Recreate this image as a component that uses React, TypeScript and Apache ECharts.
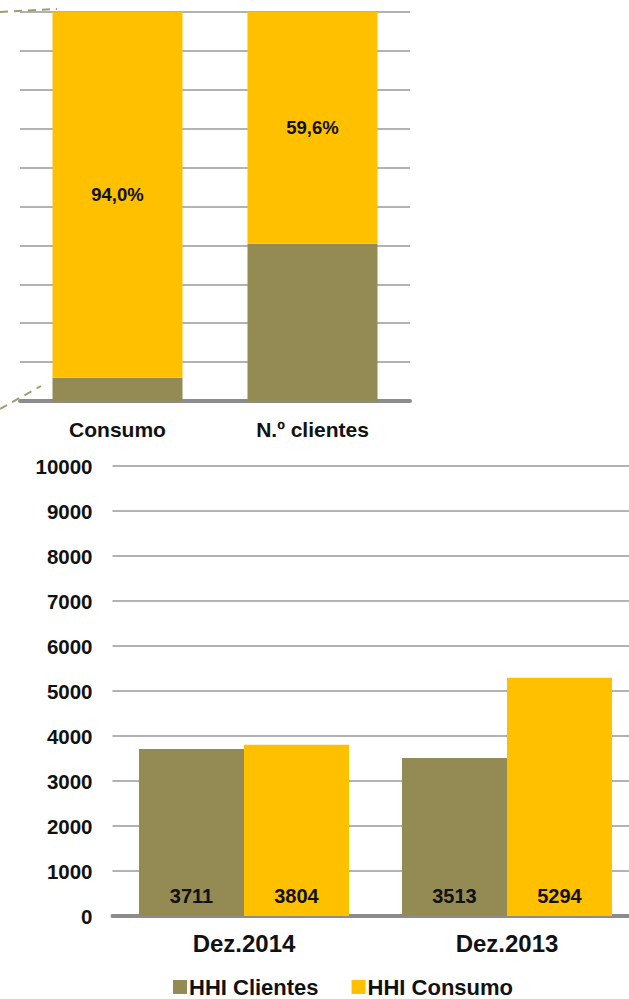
import React, { useEffect, useRef } from "react";
import * as echarts from "echarts";

const topCategories = ["Consumo", "N.º clientes"];
const topLowerShare = [6.0, 40.4];
const topUpperShare = [94.0, 59.6];
const topTicks = { min: 0, max: 100, interval: 10 };

const hhiCategories = ["Dez.2014", "Dez.2013"];
const hhiClientes = [3711, 3513];
const hhiConsumo = [3804, 5294];
const hhiTicks = { min: 0, max: 10000, interval: 1000 };

const OLIVE = "#948A54";
const YELLOW = "#FFC000";
const GRID = "#989898";
const AXIS = "#8C8C8C";
const FONT = "'Liberation Sans', Arial, sans-serif";

export default function App() {
  const ref = useRef<HTMLDivElement>(null);
  useEffect(() => {
    document.body.style.margin = "0";
    const chart = echarts.init(ref.current!, undefined, { renderer: "svg" });
    chart.setOption({
      animation: false,
      textStyle: { fontFamily: FONT },
      grid: [
        { left: 20, top: 12, width: 390, height: 389 },
        { left: 112.5, top: 466, width: 526, height: 450 },
      ],
      legend: {
        data: ["HHI Clientes", "HHI Consumo"],
        left: 173,
        top: 976,
        icon: "rect",
        itemWidth: 14,
        itemHeight: 14,
        itemGap: 33,
        padding: 0,
        textStyle: {
          fontSize: 22,
          fontWeight: "bold",
          color: "#111",
          fontFamily: FONT,
          lineHeight: 20,
          padding: [0, 0, 0, -3],
        },
      },
      xAxis: [
        {
          type: "category",
          gridIndex: 0,
          data: topCategories,
          axisLine: { lineStyle: { color: AXIS, width: 4 } },
          axisTick: { show: false },
          axisLabel: { fontSize: 21, fontWeight: "bold", color: "#111", margin: 18, fontFamily: FONT },
        },
        {
          type: "category",
          gridIndex: 1,
          data: hhiCategories,
          axisLine: { lineStyle: { color: AXIS, width: 4 } },
          axisTick: { show: false },
          axisLabel: { fontSize: 24, fontWeight: "bold", color: "#111", margin: 15, fontFamily: FONT },
        },
      ],
      yAxis: [
        {
          type: "value",
          gridIndex: 0,
          ...topTicks,
          axisLabel: { show: false },
          axisLine: { show: false },
          axisTick: { show: false },
          splitLine: { lineStyle: { color: GRID, width: 1.5 } },
        },
        {
          type: "value",
          gridIndex: 1,
          ...hhiTicks,
          axisLabel: {
            fontSize: 20.5,
            fontWeight: "bold",
            color: "#111",
            margin: 20,
            fontFamily: FONT,
            formatter: (v: number) => String(v),
          },
          axisLine: { show: false },
          axisTick: { show: false },
          splitLine: { lineStyle: { color: GRID, width: 1.5 } },
        },
      ],
      series: [
        {
          name: "Quota inferior",
          type: "bar",
          xAxisIndex: 0,
          yAxisIndex: 0,
          stack: "top",
          barWidth: 130,
          data: topLowerShare,
          itemStyle: { color: OLIVE },
        },
        {
          name: "Quota superior",
          type: "bar",
          xAxisIndex: 0,
          yAxisIndex: 0,
          stack: "top",
          barWidth: 130,
          data: topUpperShare,
          itemStyle: { color: YELLOW },
          label: {
            show: true,
            position: "inside",
            fontSize: 18.5,
            fontWeight: "bold",
            color: "#111",
            fontFamily: FONT,
            formatter: (p: any) => p.value.toFixed(1).replace(".", ",") + "%",
          },
        },
        {
          name: "HHI Clientes",
          type: "bar",
          xAxisIndex: 1,
          yAxisIndex: 1,
          barWidth: 105,
          barGap: "0%",
          data: hhiClientes,
          itemStyle: { color: OLIVE },
          label: {
            show: true,
            position: "insideBottom",
            distance: 10,
            fontSize: 20,
            fontWeight: "bold",
            color: "#111",
            fontFamily: FONT,
          },
        },
        {
          name: "HHI Consumo",
          type: "bar",
          xAxisIndex: 1,
          yAxisIndex: 1,
          barWidth: 105,
          barGap: "0%",
          data: hhiConsumo,
          itemStyle: { color: YELLOW },
          label: {
            show: true,
            position: "insideBottom",
            distance: 10,
            fontSize: 20,
            fontWeight: "bold",
            color: "#111",
            fontFamily: FONT,
          },
        },
      ],
      graphic: [
        {
          type: "line",
          z: 100,
          shape: { x1: 0, y1: 12, x2: 57, y2: 9 },
          style: { stroke: "#A29C72", lineWidth: 2, lineDash: [8, 6] },
        },
        {
          type: "line",
          z: 100,
          shape: { x1: 0, y1: 409, x2: 41, y2: 386 },
          style: { stroke: "#A29C72", lineWidth: 2, lineDash: [8, 6] },
        },
      ],
    });
    return () => chart.dispose();
  }, []);
  return (
    <div style={{ position: "absolute", left: 0, top: 0, width: 629, height: 999, overflow: "hidden" }}>
      <div ref={ref} style={{ width: 660, height: 999 }} />
    </div>
  );
}
